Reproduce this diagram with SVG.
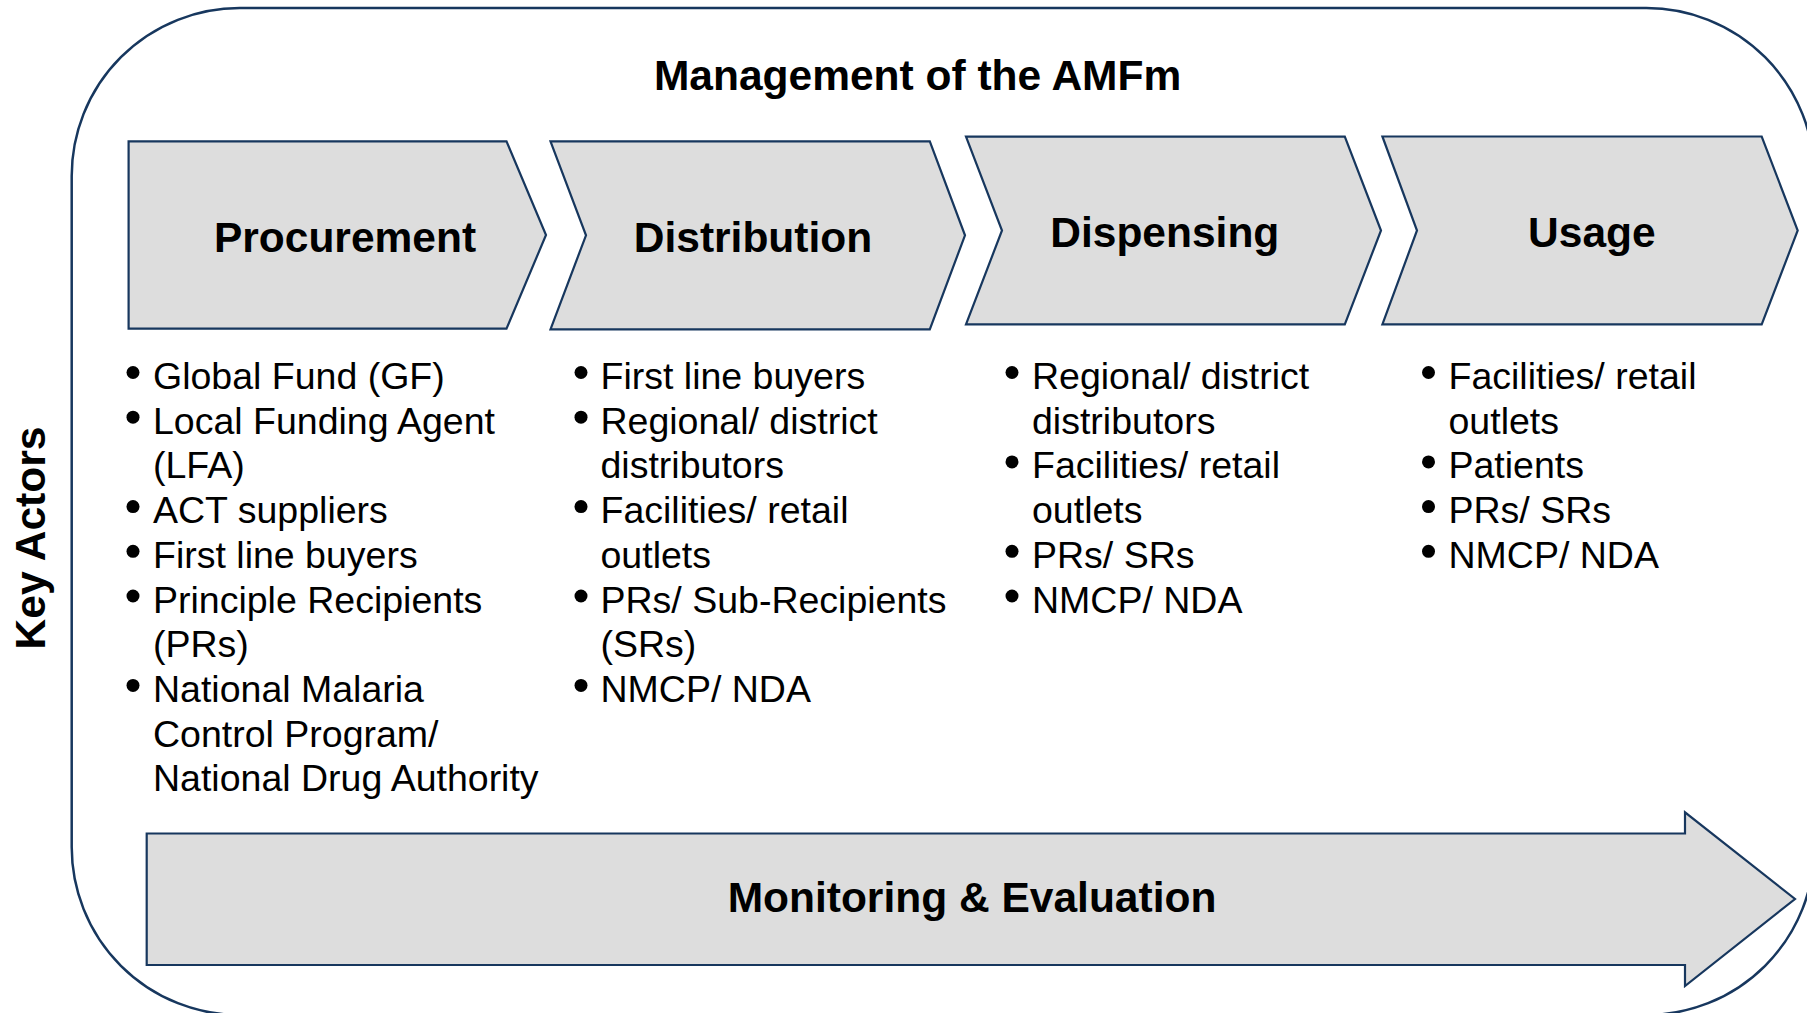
<svg xmlns="http://www.w3.org/2000/svg" width="1807" height="1013" viewBox="0 0 1807 1013">
  <style>
    .frame { fill: none; stroke: #17375E; stroke-width: 2.5; }
    .shape { fill: #DDDDDD; stroke: #17375E; stroke-width: 2.2; stroke-linejoin: miter; }
    .head { font-family: "Liberation Sans", Arial, sans-serif; font-weight: bold; font-size: 42.5px; fill: #000; text-anchor: middle; }
    .item { font-family: "Liberation Sans", Arial, sans-serif; font-size: 37.5px; fill: #000; }
    .dot { fill: #000; }
  </style>
  <rect width="1807" height="1013" fill="#FFFFFF"/>

  <g id="frame">
    <rect class="frame" x="71.7" y="8" width="1742.6" height="1007" rx="168" ry="168"/>
  </g>

  <g id="title">
    <text class="head" x="917.6" y="90">Management of the AMFm</text>
  </g>

  <g id="key-actors-label">
    <text class="head" x="45" y="538" transform="rotate(-90 45 538)">Key Actors</text>
  </g>

  <g id="procurement">
    <path class="shape" d="M128.6,141.3 H506.5 L546,235 L506.5,328.7 H128.6 Z"/>
    <text class="head" x="345" y="251.5">Procurement</text>
  </g>

  <g id="distribution">
    <path class="shape" d="M550.5,141.3 H929.8 L965,235.3 L929.8,329.3 H550.5 L586,235.3 Z"/>
    <text class="head" x="753" y="252">Distribution</text>
  </g>

  <g id="dispensing">
    <path class="shape" d="M966,136.7 H1344.8 L1381,230.5 L1344.8,324.3 H966 L1002,230.5 Z"/>
    <text class="head" x="1164.8" y="247">Dispensing</text>
  </g>

  <g id="usage">
    <path class="shape" d="M1382.4,136.5 H1761.7 L1797.7,230.5 L1761.7,324.3 H1382.4 L1417,230.5 Z"/>
    <text class="head" x="1591.9" y="247">Usage</text>
  </g>

  <g id="procurement-actors">
    <circle class="dot" cx="133" cy="372.5" r="6.5"/>
    <circle class="dot" cx="133" cy="417.2" r="6.5"/>
    <circle class="dot" cx="133" cy="506.6" r="6.5"/>
    <circle class="dot" cx="133" cy="551.3" r="6.5"/>
    <circle class="dot" cx="133" cy="596" r="6.5"/>
    <circle class="dot" cx="133" cy="685.4" r="6.5"/>
    <text class="item">
      <tspan x="153" y="389">Global Fund (GF)</tspan>
      <tspan x="153" y="433.7">Local Funding Agent</tspan>
      <tspan x="153" y="478.4">(LFA)</tspan>
      <tspan x="153" y="523.1">ACT suppliers</tspan>
      <tspan x="153" y="567.8">First line buyers</tspan>
      <tspan x="153" y="612.5">Principle Recipients</tspan>
      <tspan x="153" y="657.2">(PRs)</tspan>
      <tspan x="153" y="701.9">National Malaria</tspan>
      <tspan x="153" y="746.6">Control Program/</tspan>
      <tspan x="153" y="791.3">National Drug Authority</tspan>
    </text>
  </g>

  <g id="distribution-actors">
    <circle class="dot" cx="581" cy="372.5" r="6.5"/>
    <circle class="dot" cx="581" cy="417.2" r="6.5"/>
    <circle class="dot" cx="581" cy="506.6" r="6.5"/>
    <circle class="dot" cx="581" cy="596" r="6.5"/>
    <circle class="dot" cx="581" cy="685.4" r="6.5"/>
    <text class="item">
      <tspan x="600.5" y="389">First line buyers</tspan>
      <tspan x="600.5" y="433.7">Regional/ district</tspan>
      <tspan x="600.5" y="478.4">distributors</tspan>
      <tspan x="600.5" y="523.1">Facilities/ retail</tspan>
      <tspan x="600.5" y="567.8">outlets</tspan>
      <tspan x="600.5" y="612.5">PRs/ Sub-Recipients</tspan>
      <tspan x="600.5" y="657.2">(SRs)</tspan>
      <tspan x="600.5" y="701.9">NMCP/ NDA</tspan>
    </text>
  </g>

  <g id="dispensing-actors">
    <circle class="dot" cx="1012" cy="372.5" r="6.5"/>
    <circle class="dot" cx="1012" cy="461.9" r="6.5"/>
    <circle class="dot" cx="1012" cy="551.3" r="6.5"/>
    <circle class="dot" cx="1012" cy="596" r="6.5"/>
    <text class="item">
      <tspan x="1032" y="389">Regional/ district</tspan>
      <tspan x="1032" y="433.7">distributors</tspan>
      <tspan x="1032" y="478.4">Facilities/ retail</tspan>
      <tspan x="1032" y="523.1">outlets</tspan>
      <tspan x="1032" y="567.8">PRs/ SRs</tspan>
      <tspan x="1032" y="612.5">NMCP/ NDA</tspan>
    </text>
  </g>

  <g id="usage-actors">
    <circle class="dot" cx="1428.5" cy="372.5" r="6.5"/>
    <circle class="dot" cx="1428.5" cy="461.9" r="6.5"/>
    <circle class="dot" cx="1428.5" cy="506.6" r="6.5"/>
    <circle class="dot" cx="1428.5" cy="551.3" r="6.5"/>
    <text class="item">
      <tspan x="1448.5" y="389">Facilities/ retail</tspan>
      <tspan x="1448.5" y="433.7">outlets</tspan>
      <tspan x="1448.5" y="478.4">Patients</tspan>
      <tspan x="1448.5" y="523.1">PRs/ SRs</tspan>
      <tspan x="1448.5" y="567.8">NMCP/ NDA</tspan>
    </text>
  </g>

  <g id="monitoring-evaluation">
    <path class="shape" d="M146.7,833.5 H1685 V812.3 L1795,899 L1685,986 V965 H146.7 Z"/>
    <text class="head" x="972" y="912">Monitoring &amp; Evaluation</text>
  </g>
</svg>
